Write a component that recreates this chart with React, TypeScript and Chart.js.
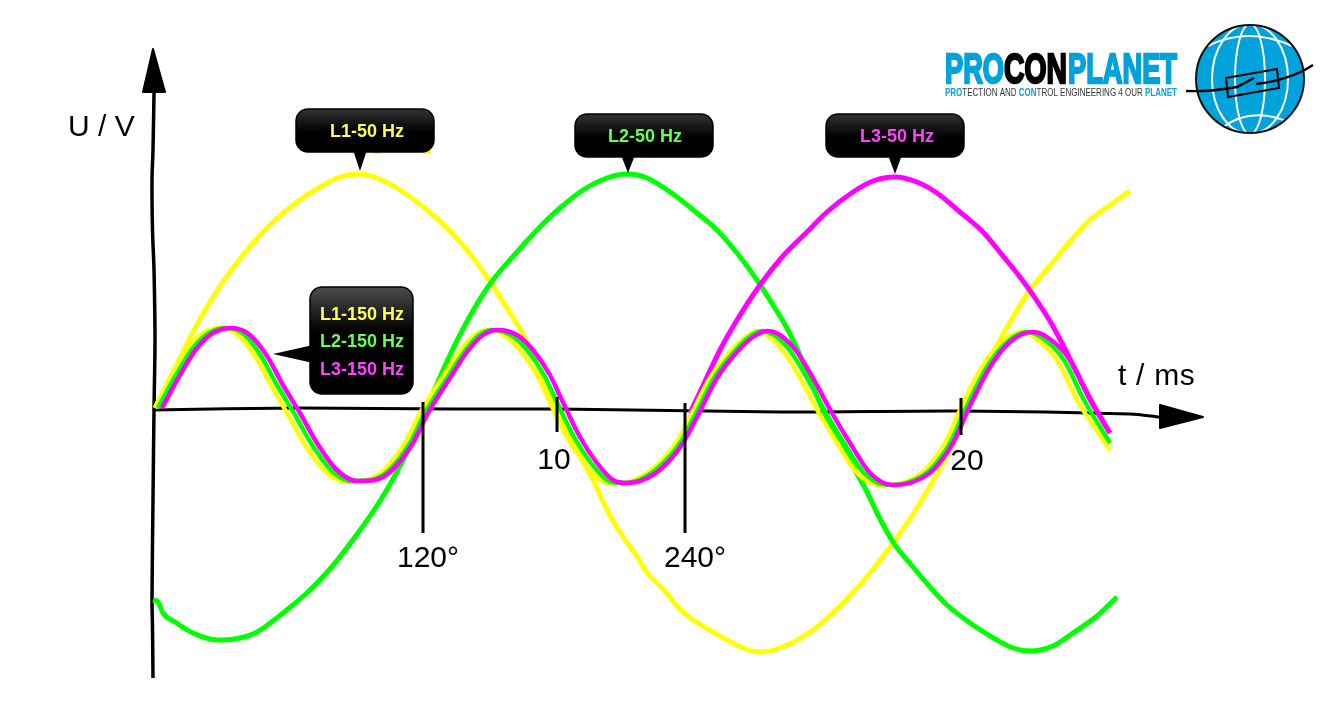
import React, { useEffect, useRef } from "react";
import { Chart, registerables } from "chart.js";

Chart.register(...registerables);

const SAMPLES_PER_MS = 40.4;

const l1_50_t = [2, 27, 40, 60, 80, 100, 120, 144, 167, 187, 205, 224, 247, 274, 294, 314, 334, 350, 367, 379, 392, 404, 424, 440, 454, 470, 485, 492, 510, 530, 560, 590, 607, 627, 660, 690, 717, 740, 764, 780, 797, 809, 830, 847, 860, 877, 900, 920, 937, 960, 977];
const l1_50_v = [0, 50, 76, 111, 140, 165, 186, 206, 221, 231, 234, 230, 218, 198, 180, 158, 131, 106, 79, 56, 26, -4, -42, -72, -102, -129, -150, -162, -181, -204, -224, -240, -244, -240, -222, -195, -165, -135, -100, -73, -42, -15, 35, 68, 91, 118, 146, 170, 188, 205, 217];

const l2_50_t = [0, 5, 10, 22, 40, 57, 70, 87, 104, 130, 157, 177, 202, 227, 240, 257, 270, 297, 317, 337, 364, 387, 407, 430, 454, 475, 494, 520, 544, 564, 584, 604, 620, 635, 650, 670, 694, 714, 724, 740, 760, 777, 794, 820, 844, 860, 877, 900, 920, 944, 964];
const l2_50_v = [-192, -194, -205, -214, -225, -231, -232, -230, -224, -205, -182, -161, -129, -93, -71, -38, -8, 53, 92, 124, 156, 181, 200, 218, 230, 234, 230, 214, 195, 178, 155, 128, 103, 78, 46, -2, -48, -84, -105, -134, -159, -179, -197, -217, -232, -240, -243, -238, -225, -208, -189];

const l3_50_t = [537, 547, 567, 584, 607, 630, 654, 674, 700, 720, 742, 764, 784, 807, 830, 850, 867, 880, 897, 910, 919, 940, 957];
const l3_50_v = [-5, 16, 58, 88, 123, 152, 176, 196, 216, 227, 231, 226, 215, 196, 176, 152, 131, 113, 87, 63, 45, 4, -25];

const l3_150_t = [9, 27, 44, 60, 79, 97, 114, 130, 147, 164, 184, 204, 222, 237, 260, 275, 297, 314, 330, 345, 364, 380, 397, 407, 427, 444, 460, 474, 490, 510, 530, 544, 564, 584, 600, 614, 627, 644, 660, 679, 697, 717, 740, 760, 780, 800, 815, 837, 857, 879, 894, 917, 937, 957];
const l3_150_v = [0, 33, 60, 75, 80, 73, 52, 23, -5, -35, -62, -73, -72, -64, -35, -5, 30, 56, 73, 78, 73, 58, 33, 12, -29, -55, -72, -75, -72, -59, -35, -9, 30, 56, 71, 77, 73, 56, 30, -5, -35, -65, -77, -74, -62, -35, -2, 41, 66, 76, 71, 48, 8, -25];

const l2_150_t = [5, 23, 40, 56, 74, 92, 108, 124, 141, 158, 178, 199, 218, 234, 257, 272, 294, 311, 326, 340, 358, 374, 391, 401, 421, 438, 454, 469, 486, 506, 527, 541, 561, 581, 596, 609, 621, 638, 654, 673, 691, 711, 735, 756, 777, 797, 812, 834, 854, 874, 888, 911, 931, 957];
const l2_150_v = [0, 33, 60, 75, 80, 73, 52, 23, -5, -35, -62, -73, -72, -64, -35, -5, 30, 56, 73, 78, 73, 58, 33, 12, -29, -55, -72, -75, -72, -59, -35, -9, 30, 56, 71, 77, 73, 56, 30, -5, -35, -65, -77, -74, -62, -35, -2, 41, 66, 76, 71, 48, 8, -35];

const l1_150_t = [2, 19, 35, 50, 69, 85, 102, 118, 134, 151, 171, 191, 212, 229, 252, 267, 289, 306, 322, 335, 351, 367, 384, 394, 414, 431, 447, 461, 481, 502, 523, 537, 557, 577, 593, 604, 614, 631, 647, 666, 684, 704, 727, 752, 772, 792, 807, 829, 849, 869, 881, 904, 924, 957];
const l1_150_v = [0, 33, 60, 75, 80, 73, 52, 23, -5, -35, -62, -73, -72, -64, -35, -5, 30, 56, 73, 78, 73, 58, 33, 12, -29, -55, -72, -75, -72, -59, -35, -9, 30, 56, 71, 77, 73, 56, 30, -5, -35, -65, -77, -74, -62, -35, -2, 41, 66, 76, 71, 48, 8, -42];

const xAxis_t = [0, 147, 300, 404, 627, 808, 977, 1007];
const xAxis_v = [-2, 0, -1, -1, -4, -3, -6, -9];
const yAxis_t = [1, 0, -1, -0.5, 1, 2, 1, 0, -1, -0.5, 0];
const yAxis_v = [315, 258, 228, 178, 138, 68, -2, -92, -192, -220, -270];

const tickPositions = [270, 404, 532, 808];
const tickTops = [6, 11, 5, 10];
const tickBottoms = [-125, -24, -125, -27];
const tickLabels = ["120°", "10", "240°", "20"];
const tickLabelShifts = [5, -3, 10, 6];
const tickLabelOffsets = [151, 53, 151, 54];

const seriesNames = ["L1-50 Hz", "L2-50 Hz", "L3-50 Hz"];
const thirdHarmonicNames = ["L1-150 Hz", "L2-150 Hz", "L3-150 Hz"];

const YELLOW = "#ffff00";
const GREEN = "#00ff00";
const MAGENTA = "#ff00ff";
const LABEL_COLORS = ["#ffff55", "#66ff55", "#ff44ff"];
const BLUE = "#00a2dc";

const pts = (t: number[], v: number[]) => t.map((x, i) => ({ x: x / SAMPLES_PER_MS, y: v[i] }));

const curve = (label: string, t: number[], v: number[], color: string, order: number, width = 5) => ({
  label,
  data: pts(t, v),
  borderColor: color,
  backgroundColor: color,
  borderWidth: width,
  pointRadius: 0,
  cubicInterpolationMode: "monotone",
  order,
  fill: false,
});

function callout(
  ctx: CanvasRenderingContext2D,
  x: number,
  y: number,
  w: number,
  h: number,
  pointer: [number, number][],
  topColor: string,
  fadeStop: number,
) {
  ctx.save();
  ctx.fillStyle = "#000";
  ctx.beginPath();
  pointer.forEach(([a, b], i) => (i ? ctx.lineTo(a, b) : ctx.moveTo(a, b)));
  ctx.closePath();
  ctx.fill();
  const g = ctx.createLinearGradient(0, y, 0, y + h);
  g.addColorStop(0, topColor);
  g.addColorStop(fadeStop, "#000");
  g.addColorStop(1, "#000");
  ctx.fillStyle = g;
  ctx.beginPath();
  ctx.roundRect(x, y, w, h, 12);
  ctx.fill();
  ctx.strokeStyle = "#000";
  ctx.lineWidth = 1.5;
  ctx.stroke();
  ctx.restore();
}

function drawLogo(ctx: CanvasRenderingContext2D) {
  ctx.save();
  ctx.textAlign = "left";
  ctx.textBaseline = "alphabetic";
  ctx.font = '900 42px "Liberation Sans Narrow", "Liberation Sans"';
  const parts: [string, number, number, string][] = [
    ["PRO", 944, 61, BLUE],
    ["CON", 1003, 65, "#000"],
    ["PLANET", 1067, 111, BLUE],
  ];
  parts.forEach(([s, x, w, c]) => {
    const m = ctx.measureText(s).width;
    ctx.save();
    ctx.translate(x + 1, 82.5);
    ctx.scale((w - 2) / m, 1);
    ctx.fillStyle = c;
    ctx.strokeStyle = c;
    ctx.lineWidth = 2.4;
    ctx.lineJoin = "miter";
    ctx.fillText(s, 0, 0);
    ctx.strokeText(s, 0, 0);
    ctx.restore();
  });

  const tag: [string, string, string][] = [
    ["PRO", BLUE, "bold"],
    ["TECTION AND ", "#333", "normal"],
    ["CON", BLUE, "bold"],
    ["TROL ENGINEERING 4 OUR ", "#333", "normal"],
    ["PLANET", BLUE, "bold"],
  ];
  const fontFor = (w: string) => `${w} 10.5px "Liberation Sans"`;
  let total = 0;
  tag.forEach(([s, , w]) => {
    ctx.font = fontFor(w);
    total += ctx.measureText(s).width;
  });
  const k = 232 / total;
  ctx.translate(945, 96);
  ctx.scale(k, 1);
  let cx = 0;
  tag.forEach(([s, c, w]) => {
    ctx.font = fontFor(w);
    ctx.fillStyle = c;
    ctx.fillText(s, cx, 0);
    cx += ctx.measureText(s).width;
  });
  ctx.restore();

  const gx = 1250, gy = 79, r = 54;
  ctx.save();
  ctx.beginPath();
  ctx.arc(gx, gy, r, 0, Math.PI * 2);
  ctx.fillStyle = BLUE;
  ctx.fill();
  ctx.save();
  ctx.clip();
  ctx.strokeStyle = "#fff";
  ctx.lineWidth = 2;
  [15, 38].forEach((rx) => {
    ctx.beginPath();
    ctx.ellipse(gx, gy, rx, r + 1, 0, 0, Math.PI * 2);
    ctx.stroke();
  });
  ctx.beginPath();
  ctx.moveTo(1208, 46);
  ctx.quadraticCurveTo(1248, 26, 1292, 46);
  ctx.stroke();
  ctx.beginPath();
  ctx.moveTo(1222, 128);
  ctx.quadraticCurveTo(1252, 104, 1296, 125);
  ctx.stroke();
  ctx.restore();
  ctx.strokeStyle = "#111";
  ctx.lineWidth = 2;
  ctx.beginPath();
  ctx.arc(gx, gy, r, 0, Math.PI * 2);
  ctx.stroke();

  ctx.strokeStyle = "#000";
  ctx.lineWidth = 2;
  ctx.beginPath();
  ctx.moveTo(1226, 78);
  ctx.lineTo(1277, 69);
  ctx.lineTo(1279, 88);
  ctx.lineTo(1228, 97);
  ctx.closePath();
  ctx.stroke();

  ctx.lineWidth = 2.4;
  ctx.beginPath();
  ctx.moveTo(1186, 91);
  ctx.quadraticCurveTo(1210, 92, 1237, 87);
  ctx.lineTo(1254, 78);
  ctx.moveTo(1256, 84);
  ctx.quadraticCurveTo(1290, 80, 1313, 65);
  ctx.stroke();
  ctx.restore();
}

const annotations = {
  id: "annotations",
  afterDatasetsDraw(chart: any) {
    const { ctx, scales } = chart;
    const px = (t: number) => scales.x.getPixelForValue(t / SAMPLES_PER_MS);
    const py = (v: number) => scales.y.getPixelForValue(v);

    ctx.save();
    ctx.fillStyle = "#000";
    ctx.lineJoin = "round";
    ctx.strokeStyle = "#000";
    ctx.lineWidth = 2;
    ctx.beginPath();
    ctx.moveTo(px(1050), py(-9));
    ctx.lineTo(px(1007), py(3));
    ctx.lineTo(px(1007), py(-20));
    ctx.closePath();
    ctx.fill();
    ctx.stroke();
    ctx.beginPath();
    ctx.moveTo(px(0), py(359));
    ctx.lineTo(px(-10), py(316));
    ctx.lineTo(px(12), py(316));
    ctx.closePath();
    ctx.fill();
    ctx.stroke();

    ctx.font = '30px "Liberation Sans"';
    ctx.textBaseline = "middle";
    ctx.textAlign = "left";
    ctx.fillText("U / V", 68, 128);
    (ctx as any).letterSpacing = "0.7px";
    ctx.fillText("t / ms", 1118, 377);
    (ctx as any).letterSpacing = "0px";
    ctx.textAlign = "center";
    tickLabels.forEach((s, i) => {
      ctx.fillText(s, px(tickPositions[i]) + tickLabelShifts[i], py(0) + tickLabelOffsets[i]);
    });

    ctx.fillStyle = YELLOW;
    ctx.fillRect(373, 150, 8, 4);
    ctx.fillRect(423, 150, 8, 4);

    callout(ctx, 296, 109, 138, 43, [[353, 150], [367, 150], [360, 171]], "#333333", 0.55);
    callout(ctx, 575, 114, 138, 43, [[621, 155], [635, 155], [628, 173]], "#333333", 0.55);
    callout(ctx, 826, 114, 138, 43, [[888, 155], [902, 155], [895, 174]], "#333333", 0.55);
    callout(ctx, 310, 287, 103, 107, [[273, 354], [313, 345], [313, 363]], "#4d4d4d", 0.42);

    ctx.font = 'bold 18px "Liberation Sans"';
    ctx.textAlign = "center";
    ctx.fillStyle = LABEL_COLORS[0];
    ctx.fillText(seriesNames[0], 367, 132);
    ctx.fillStyle = LABEL_COLORS[1];
    ctx.fillText(seriesNames[1], 645, 137);
    ctx.fillStyle = LABEL_COLORS[2];
    ctx.fillText(seriesNames[2], 897, 137);
    [315, 342, 370].forEach((y, i) => {
      ctx.fillStyle = LABEL_COLORS[i];
      ctx.fillText(thirdHarmonicNames[i], 362, y);
    });
    ctx.restore();

    drawLogo(ctx);
  },
};

export default function App() {
  const ref = useRef<HTMLCanvasElement>(null);
  useEffect(() => {
    document.body.style.margin = "0";
    document.body.style.background = "#fff";
    const tickSets = tickPositions.map((t, i) => ({
      label: `tick ${tickLabels[i]}`,
      data: [
        { x: t / SAMPLES_PER_MS, y: tickTops[i] },
        { x: t / SAMPLES_PER_MS, y: tickBottoms[i] },
      ],
      borderColor: "#000",
      borderWidth: 3,
      pointRadius: 0,
      order: 0,
    }));
    const chart = new Chart(ref.current!, {
      type: "line",
      data: {
        datasets: [
          ...tickSets,
          curve(thirdHarmonicNames[2], l3_150_t, l3_150_v, MAGENTA, 1, 4.5),
          curve(thirdHarmonicNames[1], l2_150_t, l2_150_v, GREEN, 2, 4.5),
          curve(thirdHarmonicNames[0], l1_150_t, l1_150_v, YELLOW, 3, 4.5),
          curve(seriesNames[2], l3_50_t, l3_50_v, MAGENTA, 4),
          curve(seriesNames[1], l2_50_t, l2_50_v, GREEN, 5),
          curve(seriesNames[0], l1_50_t, l1_50_v, YELLOW, 6),
          { label: "t", data: pts(xAxis_t, xAxis_v), borderColor: "#000", borderWidth: 3, pointRadius: 0, tension: 0.3, order: 7 },
          { label: "U", data: pts(yAxis_t, yAxis_v), borderColor: "#000", borderWidth: 3.5, pointRadius: 0, tension: 0.3, order: 7 },
        ],
      } as any,
      options: {
        animation: false,
        responsive: false,
        devicePixelRatio: 1,
        parsing: false,
        layout: { padding: 0 },
        plugins: { legend: { display: false }, tooltip: { enabled: false } },
        scales: {
          x: { type: "linear", display: false, min: -153 / SAMPLES_PER_MS, max: (1344 - 153) / SAMPLES_PER_MS },
          y: { type: "linear", display: false, min: -319, max: 408 },
        },
      } as any,
      plugins: [annotations],
    });
    return () => chart.destroy();
  }, []);
  return (
    <div style={{ position: "absolute", left: 0, top: 0, width: 1344, height: 727, background: "#fff" }}>
      <canvas ref={ref} width={1344} height={727} style={{ display: "block" }} />
    </div>
  );
}
